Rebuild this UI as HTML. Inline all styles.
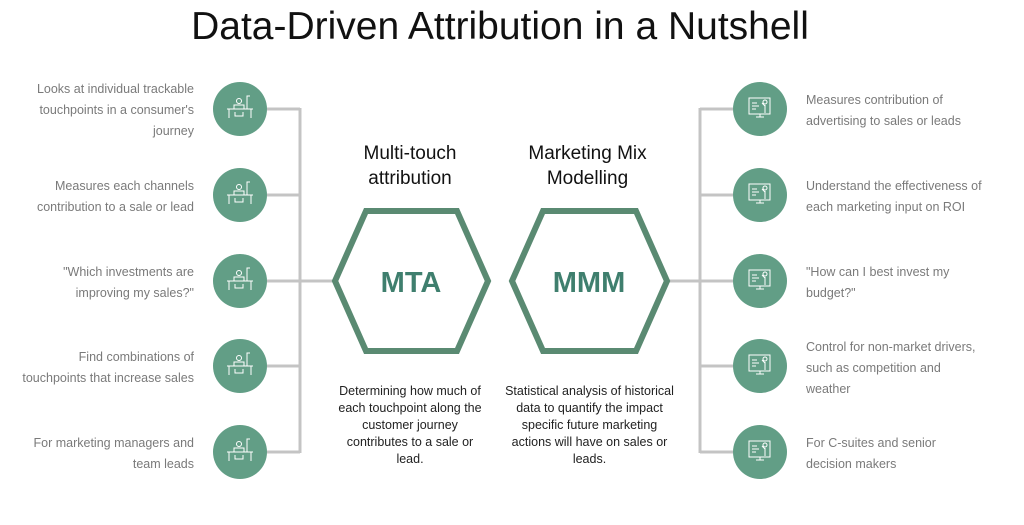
<!DOCTYPE html>
<html><head><meta charset="utf-8"><style>
body{margin:0;width:1024px;height:525px;background:#fff;font-family:"Liberation Sans",sans-serif;position:relative;overflow:hidden}
.t{position:absolute;font-size:12.5px;line-height:21px;color:#7a7a7a;white-space:nowrap}
.l{text-align:right;width:194px;left:0}
.r{text-align:left;left:806px;width:210px}
.c{position:absolute;text-align:center;font-size:12.5px;line-height:17px;color:#222;white-space:nowrap}
h1{position:absolute;margin:0;top:5px;left:0;width:1000px;text-align:center;font-weight:normal;font-size:39px;color:#111}
.h{position:absolute;text-align:center;font-size:19px;line-height:25px;color:#111}
</style></head><body>
<h1>Data-Driven Attribution in a Nutshell</h1>
<svg width="1024" height="525" style="position:absolute;left:0;top:0">
<g stroke="#c4c4c4" stroke-width="3" fill="none">
<path d="M267 109H300M267 195H300M267 281H334M267 366H300M267 452H300M300 108V453"/>
<path d="M733 109H700M733 195H700M733 281H668M733 366H700M733 452H700M700 108V453"/>
</g>
<g stroke="#5a8a72" stroke-width="6" fill="none">
<polygon points="335,281 366,211 457,211 488,281 457,351 366,351"/>
<polygon points="512,281 543,211 636,211 667,281 636,351 543,351"/>
</g>
<g fill="#629e86">
<circle cx="240" cy="109" r="27"/><circle cx="240" cy="195" r="27"/><circle cx="240" cy="281" r="27"/><circle cx="240" cy="366" r="27"/><circle cx="240" cy="452" r="27"/>
<circle cx="760" cy="109" r="27"/><circle cx="760" cy="195" r="27"/><circle cx="760" cy="281" r="27"/><circle cx="760" cy="366" r="27"/><circle cx="760" cy="452" r="27"/>
</g>
<g stroke="#fff" stroke-width="1" fill="none">
<g id="d"><path d="M227 109h26M229 109v9M251 109v9M235 112v4h8v-4"/><circle cx="239" cy="101" r="2.5"/><path d="M234 109v-4h10v4M247 109v-13h3"/></g>
<use href="#d" y="86"/><use href="#d" y="172"/><use href="#d" y="257"/><use href="#d" y="343"/>
<g id="m"><rect x="749" y="98" width="21" height="16"/><path d="M756 117h8M760 114v3M752 103h5M752 106h7M752 109h4"/><circle cx="765" cy="102" r="2"/><path d="M765 105v8M762 103l3 3"/></g>
<use href="#m" y="86"/><use href="#m" y="172"/><use href="#m" y="257"/><use href="#m" y="343"/>
</g>
<text x="411" y="292" text-anchor="middle" font-family="Liberation Sans" font-weight="bold" font-size="29" fill="#3f7f6e">MTA</text>
<text x="589" y="292" text-anchor="middle" font-family="Liberation Sans" font-weight="bold" font-size="29" fill="#3f7f6e">MMM</text>
</svg>
<div class="t l" style="top:79px">Looks at individual trackable<br>touchpoints in a consumer's<br>journey</div>
<div class="t l" style="top:176px">Measures each channels<br>contribution to a sale or lead</div>
<div class="t l" style="top:262px">"Which investments are<br>improving my sales?"</div>
<div class="t l" style="top:347px">Find combinations of<br>touchpoints that increase sales</div>
<div class="t l" style="top:433px">For marketing managers and<br>team leads</div>
<div class="t r" style="top:90px">Measures contribution of<br>advertising to sales or leads</div>
<div class="t r" style="top:176px">Understand the effectiveness of<br>each marketing input on ROI</div>
<div class="t r" style="top:262px">"How can I best invest my<br>budget?"</div>
<div class="t r" style="top:337px">Control for non-market drivers,<br>such as competition and<br>weather</div>
<div class="t r" style="top:433px">For C-suites and senior<br>decision makers</div>
<div class="h" style="left:340px;width:140px;top:141px">Multi-touch<br>attribution</div>
<div class="h" style="left:515px;width:145px;top:141px">Marketing Mix<br>Modelling</div>
<div class="c" style="left:330px;width:160px;top:383px">Determining how much of<br>each touchpoint along the<br>customer journey<br>contributes to a sale or<br>lead.</div>
<div class="c" style="left:502px;width:175px;top:383px">Statistical analysis of historical<br>data to quantify the impact<br>specific future marketing<br>actions will have on sales or<br>leads.</div>
</body></html>
